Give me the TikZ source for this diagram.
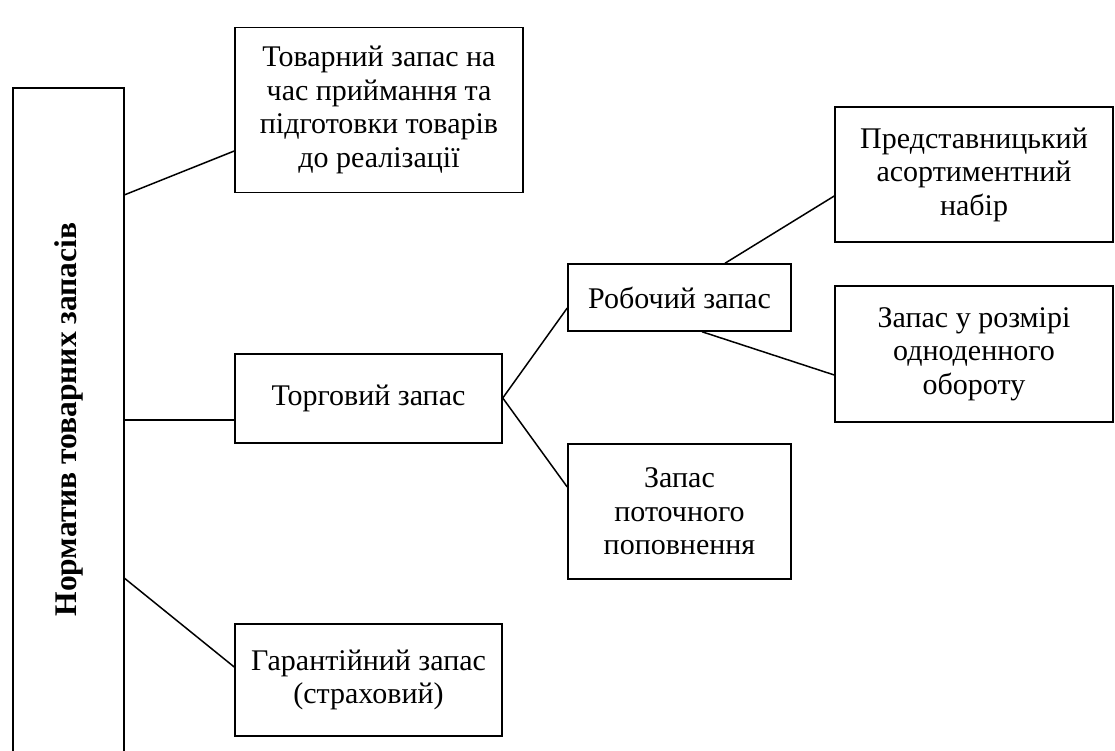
\documentclass[tikz,border=0pt]{standalone}
\usepackage{fontspec}
\setmainfont{Liberation Serif}
\begin{document}
\begin{tikzpicture}[x=1pt,y=-1pt,
  box/.style={draw, line width=1.5pt, inner sep=0pt, align=center,
    font=\fontsize{30}{33.5}\selectfont},
  conn/.style={line width=1.5pt}]
\useasboundingbox (0,0) rectangle (1115,751);
% left tall box (open at bottom)
\node[inner sep=0pt, minimum width=111pt, minimum height=663pt] (L) at (68.5,419.5)
  {\raisebox{0pt}{\rotatebox{90}{\fontsize{31.5}{36}\selectfont\bfseries Норматив товарних запасів}}};
\draw[conn] (L.south west) -- (L.north west) -- (L.north east) -- (L.south east);
% boxes
\node[box, minimum width=288pt, minimum height=165pt] (B1) at (379,110)
  {Товарний запас на\\час приймання та\\підготовки товарів\\до реалізації};
\node[box, minimum width=267pt, minimum height=89pt] (B2) at (368.5,398.5)
  {Торговий запас};
\node[box, minimum width=267pt, minimum height=112pt] (B3) at (368.5,680)
  {Гарантійний запас\\(страховий)};
\node[box, minimum width=223pt, minimum height=67pt] (B4) at (679.5,297.5)
  {Робочий запас};
\node[box, minimum width=223pt, minimum height=135pt] (B5) at (679.5,511.5)
  {Запас\\поточного\\поповнення};
\node[box, minimum width=278pt, minimum height=135pt] (B6) at (974,174.5)
  {Представницький\\асортиментний\\набір};
\node[box, minimum width=278pt, minimum height=136pt] (B7) at (974,354)
  {Запас у розмірі\\одноденного\\обороту};
% connectors
\draw[conn] (L.east |- 0,195) -- (B1.west |- 0,151);
\draw[conn] (L.east |- 0,420) -- (B2.west |- 0,420);
\draw[conn] (L.east |- 0,578) -- (B3.west |- 0,667);
\draw[conn] (B2.east |- 0,398) -- (B4.west |- 0,308);
\draw[conn] (B2.east |- 0,398) -- (B5.west |- 0,487);
\draw[conn] (B4.north -| 725,0) -- (B6.west |- 0,196);
\draw[conn] (B4.south -| 702,0) -- (B7.west |- 0,375);
\end{tikzpicture}
\end{document}
